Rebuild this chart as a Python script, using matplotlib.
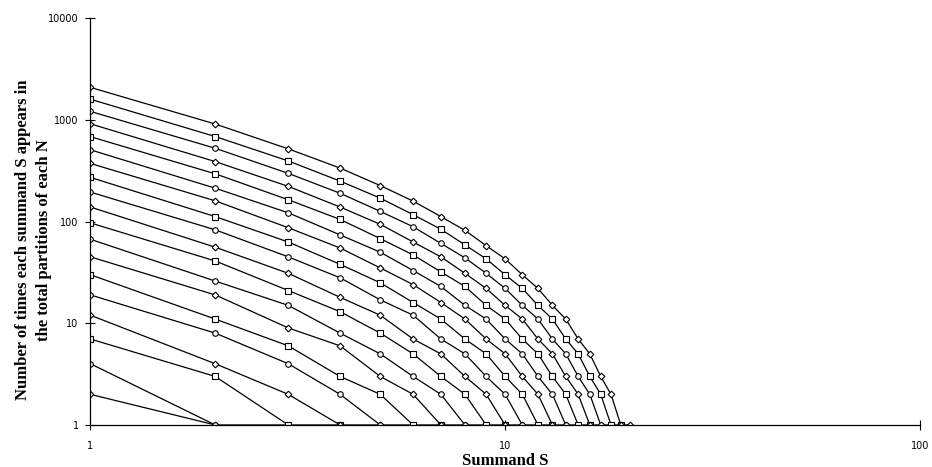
import matplotlib.pyplot as plt
from matplotlib.ticker import FixedLocator, NullLocator, FixedFormatter

# ============================
# DATA: times summand S appears in all partitions of N
# ============================

n2 = [2, 1]
n3 = [4, 1, 1]
n4 = [7, 3, 1, 1]
n5 = [12, 4, 2, 1, 1]
n6 = [19, 8, 4, 2, 1, 1]
n7 = [30, 11, 6, 3, 2, 1, 1]
n8 = [45, 19, 9, 6, 3, 2, 1, 1]
n9 = [67, 26, 15, 8, 5, 3, 2, 1, 1]
n10 = [97, 41, 21, 13, 8, 5, 3, 2, 1, 1]
n11 = [139, 56, 31, 18, 12, 7, 5, 3, 2, 1, 1]
n12 = [195, 83, 45, 28, 17, 12, 7, 5, 3, 2, 1, 1]
n13 = [272, 112, 63, 38, 25, 16, 11, 7, 5, 3, 2, 1, 1]
n14 = [373, 160, 87, 55, 35, 24, 16, 11, 7, 5, 3, 2, 1, 1]
n15 = [508, 213, 122, 74, 50, 33, 23, 15, 11, 7, 5, 3, 2, 1, 1]
n16 = [684, 295, 164, 105, 68, 47, 32, 23, 15, 11, 7, 5, 3, 2, 1, 1]
n17 = [915, 389, 222, 139, 94, 63, 45, 31, 22, 15, 11, 7, 5, 3, 2, 1, 1]
n18 = [1212, 526, 298, 190, 126, 89, 61, 44, 31, 22, 15, 11, 7, 5, 3, 2, 1, 1]
n19 = [1597, 686, 395, 250, 170, 117, 84, 59, 43, 30, 22, 15, 11, 7, 5, 3, 2, 1, 1]
n20 = [2087, 911, 519, 336, 226, 159, 112, 82, 58, 43, 30, 22, 15, 11, 7, 5, 3, 2, 1, 1]

series = [n2, n3, n4, n5, n6, n7, n8, n9, n10, n11, n12, n13, n14, n15,
          n16, n17, n18, n19, n20]

x_ticks = [1, 10, 100]
y_ticks = [1, 10, 100, 1000, 10000]

# markers cycle from the top curve down: diamond, square, circle
MARKERS = ["D", "s", "o"]

# ============================
# PLOT
# ============================

fig = plt.figure(figsize=(9.32, 4.67), dpi=100)
ax = fig.add_axes([0.097, 0.09, 0.89, 0.871])

for i, vals in enumerate(series):
    s = list(range(1, len(vals) + 1))
    k = (len(series) - 1 - i) % 3
    m = MARKERS[k]
    ms = 3.4 if m == "D" else 4.0
    ax.plot(s, vals, color="black", lw=0.9, marker=m, ms=ms,
            mfc="white", mec="black", mew=0.8)

ax.set_xscale("log")
ax.set_yscale("log")
ax.set_xlim(1, 100)
ax.set_ylim(1, 10000)

ax.xaxis.set_major_locator(FixedLocator(x_ticks))
ax.xaxis.set_major_formatter(FixedFormatter([str(v) for v in x_ticks]))
ax.xaxis.set_minor_locator(NullLocator())
ax.yaxis.set_major_locator(FixedLocator(y_ticks))
ax.yaxis.set_major_formatter(FixedFormatter([str(v) for v in y_ticks]))
ax.yaxis.set_minor_locator(NullLocator())

ax.tick_params(direction="inout", length=7, width=0.8, labelsize=7)
ax.tick_params(axis="x", pad=8)
ax.tick_params(axis="y", pad=5)

for side in ["top", "right"]:
    ax.spines[side].set_visible(False)
for side in ["left", "bottom"]:
    ax.spines[side].set_linewidth(0.9)

ax.set_xlabel("Summand S", family="Liberation Serif", weight="bold",
              fontsize=12)
ax.xaxis.set_label_coords(0.5, -0.068)
ax.set_ylabel("Number of times each summand S appears in\nthe total partitions of each N",
              family="Liberation Serif", weight="bold", fontsize=12,
              linespacing=1.45)
ax.yaxis.set_label_coords(-0.046, 0.455)

fig.savefig("out.png", dpi=100)
